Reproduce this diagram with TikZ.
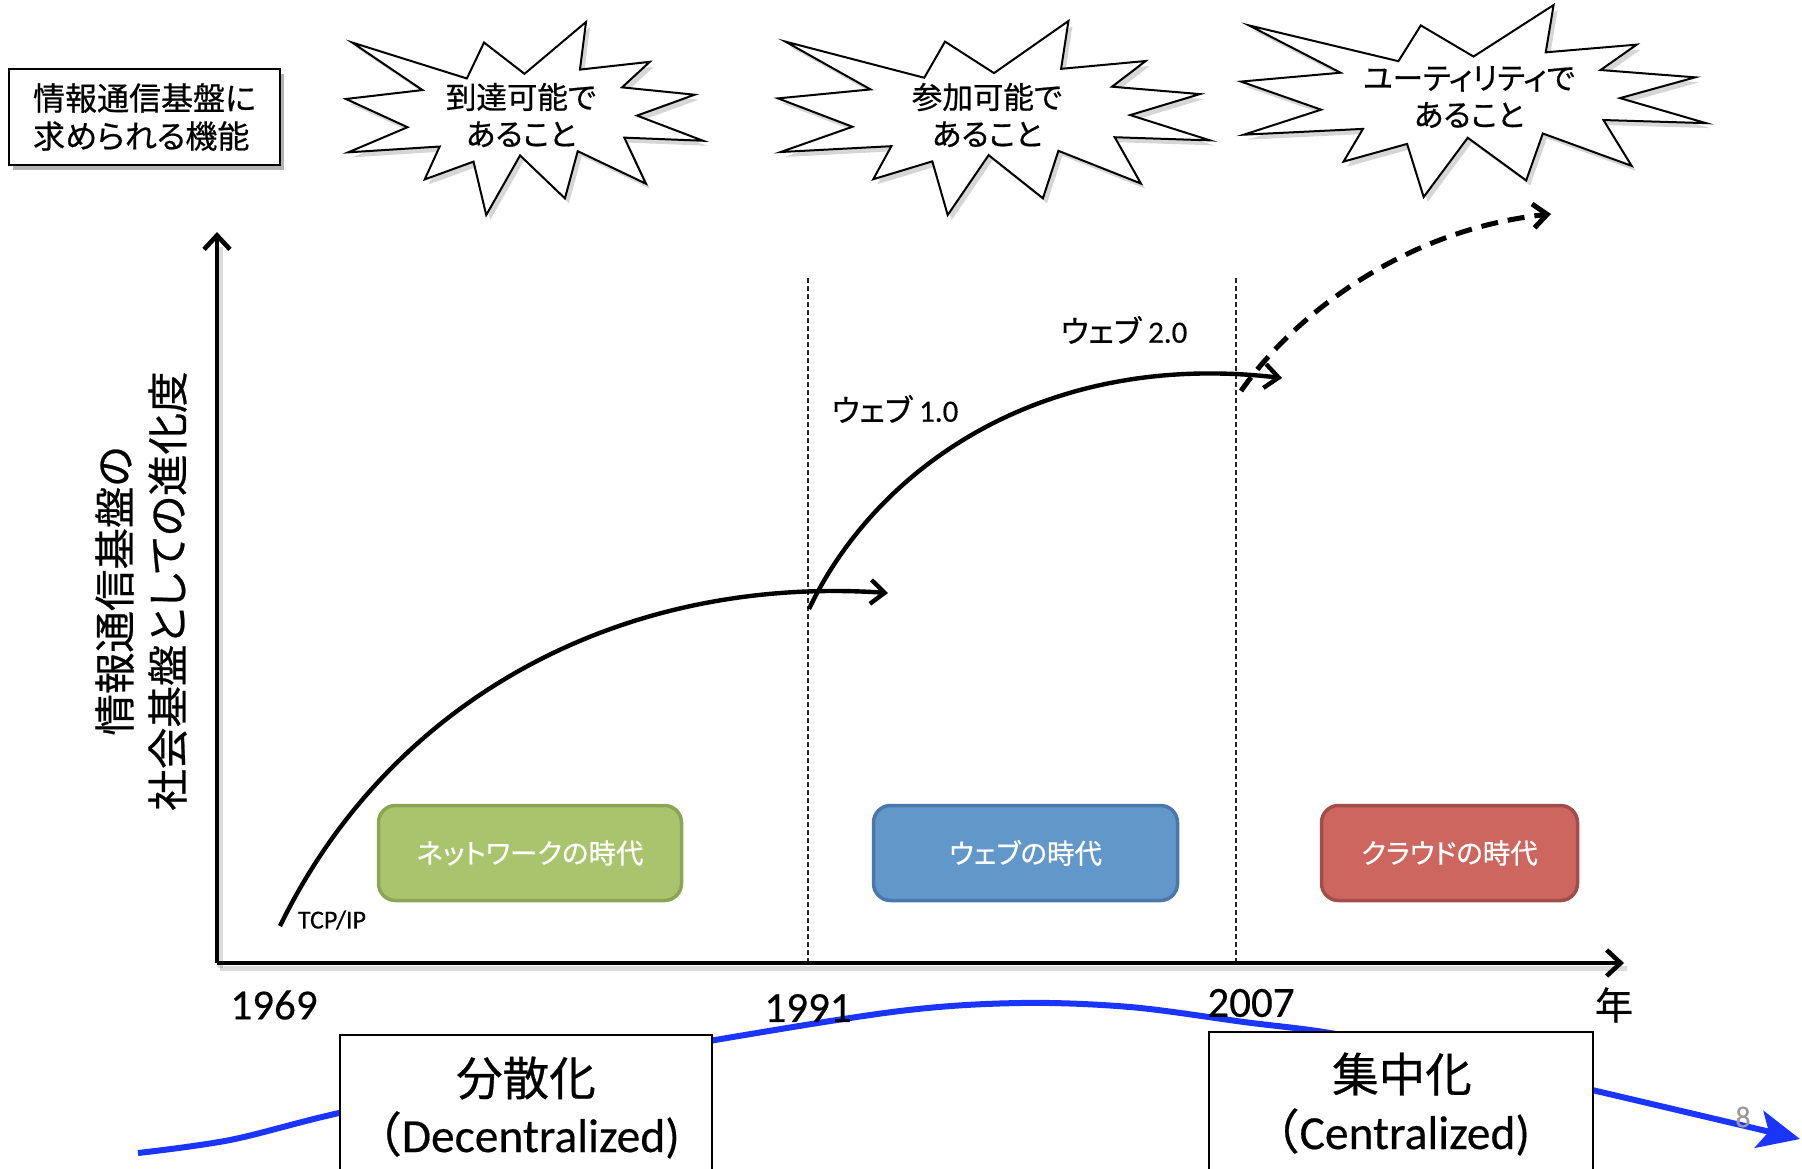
\documentclass[tikz,border=0pt]{standalone}
\usepackage{fontspec}
\setmainfont{Carlito}[FakeBold=0.35]
\newfontfamily\jp{Noto Sans CJK JP}[RawFeature=+palt, FakeBold=0.6]
\newfontfamily\jpw{Noto Sans CJK JP}[FakeBold=0.6]
\usetikzlibrary{arrows.meta,shadows}
\definecolor{greenF}{HTML}{A9C46C}
\definecolor{greenD}{HTML}{8AA553}
\definecolor{blueF}{HTML}{6297CA}
\definecolor{blueD}{HTML}{4A78AC}
\definecolor{redF}{HTML}{CD665F}
\definecolor{redD}{HTML}{A34D49}
\definecolor{flowblue}{HTML}{1A35FF}
\newcommand\fsz[2]{\fontsize{#1}{#2}\selectfont}
\newcommand\burstshape[1]{\filldraw[#1] (108,58) -- (145.22,0) -- (141.55,53.25) -- (183.80,44.57) -- (167.02,73.15) -- (210.97,81.37) -- (176.07,104.75) -- (216,132.90) -- (168.37,129.42) -- (181.45,180.95) -- (140.20,144.57) -- (132.47,197.37) -- (105.32,149.35) -- (84.85,216) -- (77.15,156.27) -- (47.62,176.17) -- (56.67,139.37) -- (1.35,145.87) -- (37.22,117.75) -- (0,86.15) -- (46.27,76.17) -- (3.70,22.95) -- (73.12,63.20) -- (83.52,22.95) -- cycle;}
\newcommand\drawburst[4]{%
  \begin{scope}[shift={(#1+4,#2+5)},xscale={(#3-#1)/216},yscale={(#4-#2)/216}]
    \burstshape{fill=black,opacity=0.16,draw=none}
  \end{scope}
  \begin{scope}[shift={(#1,#2)},xscale={(#3-#1)/216},yscale={(#4-#2)/216}]
    \burstshape{fill=white,draw=black,line width=2pt,line join=miter}
  \end{scope}}
\begin{document}
\begin{tikzpicture}[x=1pt,y=-1pt,
  bursttext/.style={font=\jp\fsz{30.5}{37}, align=center, inner sep=0pt},
  axisline/.style={line width=4.6pt, -{Straight Barb[length=14pt,width=26pt]}},
  axisshadow/.style={line width=5pt, black, opacity=0.14},
  curve/.style={line width=4.4pt, -{Straight Barb[length=14pt,width=24pt]}},
  vline/.style={line width=1.2pt, black!85, dash pattern=on 5pt off 3pt},
  era/.style={rounded corners=17pt, line width=3.5pt, minimum height=95pt, text=white, font=\jp\fsz{27.5}{31}},
  year/.style={font=\fsz{43}{48}, inner sep=0pt},
  bigbox/.style={draw=black, line width=1.4pt, fill=white},
  flow/.style={line width=6pt, flowblue, -{Stealth[length=42pt,width=38pt,inset=10pt]}}
]
\useasboundingbox (0,0) rectangle (1802,1168);
\clip (0,0) rectangle (1802,1168);

% requirement box
\node[draw=black, line width=1.6pt, fill=white, minimum width=271pt, minimum height=96pt,
  drop shadow={shadow xshift=4pt, shadow yshift=-5pt, opacity=0.3, fill=black},
  align=left, font=\jp\fsz{32}{38}] (req) at (144.5,117) {情報通信基盤に\\求められる機能};

% explosions
\drawburst{346}{22}{703}{215}
\drawburst{778}{21}{1210}{215}
\drawburst{1241}{5}{1706}{197}
\node[bursttext] (b1) at (521,115) {到達可能で\\あること};
\node[bursttext] (b2) at (987,115) {参加可能で\\あること};
\node[bursttext] (b3) at (1469,97) {ユーティリティで\\あること};

% y label
\node[rotate=90, align=center, font=\jp\fsz{41.5}{53}, inner sep=0pt] (ylab) at (141,591)
  {情報通信基盤の\\社会基盤としての進化度};

% vertical dashed lines
\coordinate (v1t) at (808,278); \coordinate (v1b) at (808,963);
\coordinate (v2t) at (1236,278); \coordinate (v2b) at (1236,963);
\draw[vline] (v1t) -- (v1b);
\draw[vline] (v2t) -- (v2b);

% axes
\coordinate (O) at (217,963);
\coordinate (ytip) at (217,232);
\coordinate (xtip) at (1624,963);
\draw[axisshadow] ([shift={(3,5)}]O) -- ([shift={(3,5)}]xtip);
\draw[axisshadow] ([shift={(3,5)}]O) -- ([shift={(3,15)}]ytip);
\draw[axisline] (O) -- (ytip);
\draw[axisline] (O) -- (xtip);

% growth curves
\coordinate (c1s) at (280,926); \coordinate (c1e) at (888,593);
\draw[curve] (c1s) .. controls (390,700) and (620,575) .. (c1e);
\coordinate (c2s) at (809,609); \coordinate (c2e) at (1282,378);
\draw[curve] (c2s) .. controls (875,470) and (1040,350) .. (c2e);
\coordinate (c3s) at (1241,391); \coordinate (c3e) at (1551,214);
\draw[curve, line width=5pt, dash pattern=on 17pt off 10pt] (c3s) .. controls (1290,320) and (1400,230) .. (c3e);

\node[font=\fsz{26}{30}, inner sep=0pt] (tcp) at (332,920) {TCP/IP};
\node[font=\fsz{31}{34}, inner sep=0pt] (w1) at (895,409) {{\jp ウェブ} 1.0};
\node[font=\fsz{31}{34}, inner sep=0pt] (w2) at (1124,330) {{\jp ウェブ} 2.0};

% era boxes
\node[era, fill=greenF, draw=greenD, minimum width=303pt] (e1) at (530,853) {ネットワークの時代};
\node[era, fill=blueF, draw=blueD, minimum width=304pt] (e2) at (1025.5,853) {ウェブの時代};
\node[era, fill=redF, draw=redD, minimum width=256pt] (e3) at (1449.5,853) {クラウドの時代};

% blue flow line
\draw[flow] plot[smooth, tension=0.55] coordinates {(138,1153) (230,1140) (339,1113) (520,1075) (715,1040) (900,1011) (1020,1003) (1130,1007) (1244,1022) (1336,1034) (1460,1060) (1592,1090) (1800,1139)};

% year labels
\node[year] (y1969) at (274,1005) {1969};
\node[year] (y1991) at (808,1008) {1991};
\node[year] (y2007) at (1251,1003) {2007};
\node[font=\jp\fsz{38}{42}, inner sep=0pt] (nen) at (1614,1005) {年};

% bottom boxes
\path[bigbox] (340,1035) rectangle (712,1200);
\path[bigbox] (1209,1032) rectangle (1593,1200);
\node[font=\jp\fsz{46.5}{50}, inner sep=0pt] (decA) at (526,1078) {分散化};
\node[font=\fsz{47.5}{50}, inner sep=0pt] (decB) at (517,1135) {{\jpw （}Decentralized)};
\node[font=\jp\fsz{46.5}{50}, inner sep=0pt] (cenA) at (1402,1074) {集中化};
\node[font=\fsz{47.5}{50}, inner sep=0pt] (cenB) at (1391,1132) {{\jpw （}Centralized)};

\node[text=black!40, font=\fsz{30}{34}, inner sep=0pt] (pg) at (1743,1117) {8};
\end{tikzpicture}
\end{document}
